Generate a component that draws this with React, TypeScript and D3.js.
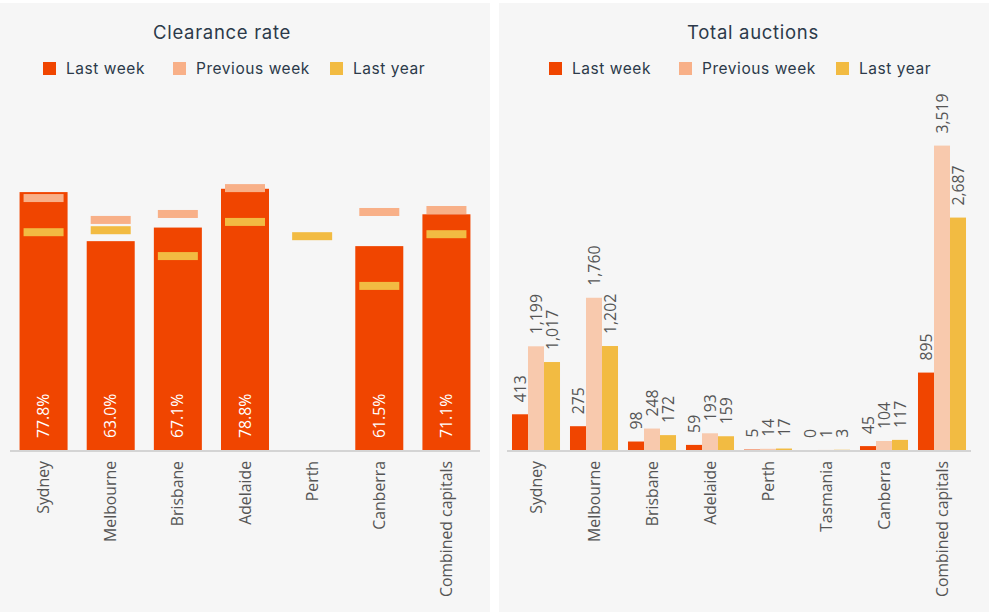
import React from "react";
import * as d3 from "d3";

const crCategories = ["Sydney", "Melbourne", "Brisbane", "Adelaide", "Perth", "Canberra", "Combined capitals"];
const crLastWeek: (number | null)[] = [77.8, 63.0, 67.1, 78.8, null, 61.5, 71.1];
const crPrevWeek: (number | null)[] = [76.0, 69.4, 71.2, 79.0, null, 71.8, 72.4];
const crLastYear: (number | null)[] = [65.7, 66.3, 58.5, 68.8, 64.5, 49.5, 65.1];

const taCategories = ["Sydney", "Melbourne", "Brisbane", "Adelaide", "Perth", "Tasmania", "Canberra", "Combined capitals"];
const taLastWeek = [413, 275, 98, 59, 5, 0, 45, 895];
const taPrevWeek = [1199, 1760, 248, 193, 14, 1, 104, 3519];
const taLastYear = [1017, 1202, 172, 159, 17, 3, 117, 2687];

const seriesNames = ["Last week", "Previous week", "Last year"];
const COL_LW = "#f04500";
const COL_PW = "#f8b088";
const COL_PW_BAR = "#f8c9ad";
const COL_LY = "#f2bb42";
const legendColors = [COL_LW, COL_PW, COL_LY];

const TITLE_FONT = "Inter, 'Noto Sans', sans-serif";
const LABEL_FONT = "'Open Sans', 'Noto Sans', sans-serif";
const TITLE_COLOR = "#2c3a4a";
const TEXT_COLOR = "#555555";
const LABEL_SIZE = 15.8;
const BASE = 450;

function Legend({ x0 }: { x0: number }) {
  const offsets = [0, 130, 287];
  return (
    <g>
      {seriesNames.map((s, i) => (
        <g key={s} transform={`translate(${x0 + offsets[i]},0)`}>
          <rect x={0} y={62} width={13} height={13} fill={legendColors[i]} />
          <text x={23} y={74} fontFamily={TITLE_FONT} fontSize={15.5} letterSpacing={0.55} fill={TITLE_COLOR}>{s}</text>
        </g>
      ))}
    </g>
  );
}

function ClearanceChart() {
  const x = d3.scaleBand<string>().domain(crCategories).range([10, 480]).paddingInner(0.285).paddingOuter(0.1425);
  const y = d3.scaleLinear().domain([0, 100]).range([BASE, 118.5]);
  const bw = x.bandwidth();
  const mw = 40;
  const mh = 8;
  return (
    <g>
      <rect x={0} y={3} width={490} height={609} fill="#f6f6f6" />
      <text x={222} y={39} textAnchor="middle" fontFamily={TITLE_FONT} fontSize={18.5} letterSpacing={0.7} fill={TITLE_COLOR}>Clearance rate</text>
      <Legend x0={43} />
      {crCategories.map((c, i) => {
        const bx = x(c)!;
        const cx = bx + bw / 2;
        const lw = crLastWeek[i];
        const pw = crPrevWeek[i];
        const ly = crLastYear[i];
        return (
          <g key={c}>
            {lw != null && <rect x={bx} y={y(lw)} width={bw} height={BASE - y(lw)} fill={COL_LW} />}
            {pw != null && <rect x={cx - mw / 2} y={y(pw) - mh / 2} width={mw} height={mh} fill={COL_PW} />}
            {ly != null && <rect x={cx - mw / 2} y={y(ly) - mh / 2} width={mw} height={mh} fill={COL_LY} />}
            {lw != null && (
              <text transform={`translate(${cx},${BASE - 12}) rotate(-90)`} dy="0.35em" fontFamily={LABEL_FONT} fontSize={LABEL_SIZE} fill="#ffffff">
                {d3.format(".1f")(lw) + "%"}
              </text>
            )}
            <text transform={`translate(${cx},${BASE + 11}) rotate(-90)`} dy="0.35em" textAnchor="end" fontFamily={LABEL_FONT} fontSize={LABEL_SIZE} fill={TEXT_COLOR}>
              {c}
            </text>
          </g>
        );
      })}
      <line x1={10} x2={480} y1={BASE + 1} y2={BASE + 1} stroke="#d4d4d4" strokeWidth={2} />
    </g>
  );
}

function AuctionsChart() {
  const x = d3.scaleBand<string>().domain(taCategories).range([507, 971]).paddingInner(0.172).paddingOuter(0.086);
  const y = d3.scaleLinear().domain([0, 4000]).range([BASE, 104]);
  const keys = ["lw", "pw", "ly"];
  const x1 = d3.scaleBand<string>().domain(keys).range([0, x.bandwidth()]);
  const fmt = d3.format(",");
  const cols: Record<string, string> = { lw: COL_LW, pw: COL_PW_BAR, ly: COL_LY };
  return (
    <g>
      <rect x={499} y={3} width={490} height={609} fill="#f6f6f6" />
      <text x={753} y={39} textAnchor="middle" fontFamily={TITLE_FONT} fontSize={18.5} letterSpacing={0.7} fill={TITLE_COLOR}>Total auctions</text>
      <Legend x0={549} />
      {taCategories.map((c, i) => {
        const vals: Record<string, number> = { lw: taLastWeek[i], pw: taPrevWeek[i], ly: taLastYear[i] };
        const gx = x(c)!;
        return (
          <g key={c}>
            {keys.map((k) => {
              const v = vals[k];
              const bx = gx + x1(k)!;
              const cx = bx + x1.bandwidth() / 2;
              return (
                <g key={k}>
                  <rect x={bx} y={y(v)} width={x1.bandwidth()} height={BASE - y(v)} fill={cols[k]} />
                  <text transform={`translate(${cx},${y(v) - 12}) rotate(-90)`} dy="0.35em" fontFamily={LABEL_FONT} fontSize={LABEL_SIZE} fill={TEXT_COLOR}>
                    {fmt(v)}
                  </text>
                </g>
              );
            })}
            <text transform={`translate(${gx + x.bandwidth() / 2},${BASE + 11}) rotate(-90)`} dy="0.35em" textAnchor="end" fontFamily={LABEL_FONT} fontSize={LABEL_SIZE} fill={TEXT_COLOR}>
              {c}
            </text>
          </g>
        );
      })}
      <line x1={507} x2={971} y1={BASE + 1} y2={BASE + 1} stroke="#d4d4d4" strokeWidth={2} />
    </g>
  );
}

export default function App() {
  return (
    <div style={{ position: "absolute", left: 0, top: 0 }}>
      <svg width={990} height={612} style={{ display: "block", background: "#ffffff" }}>
        <ClearanceChart />
        <AuctionsChart />
      </svg>
    </div>
  );
}
